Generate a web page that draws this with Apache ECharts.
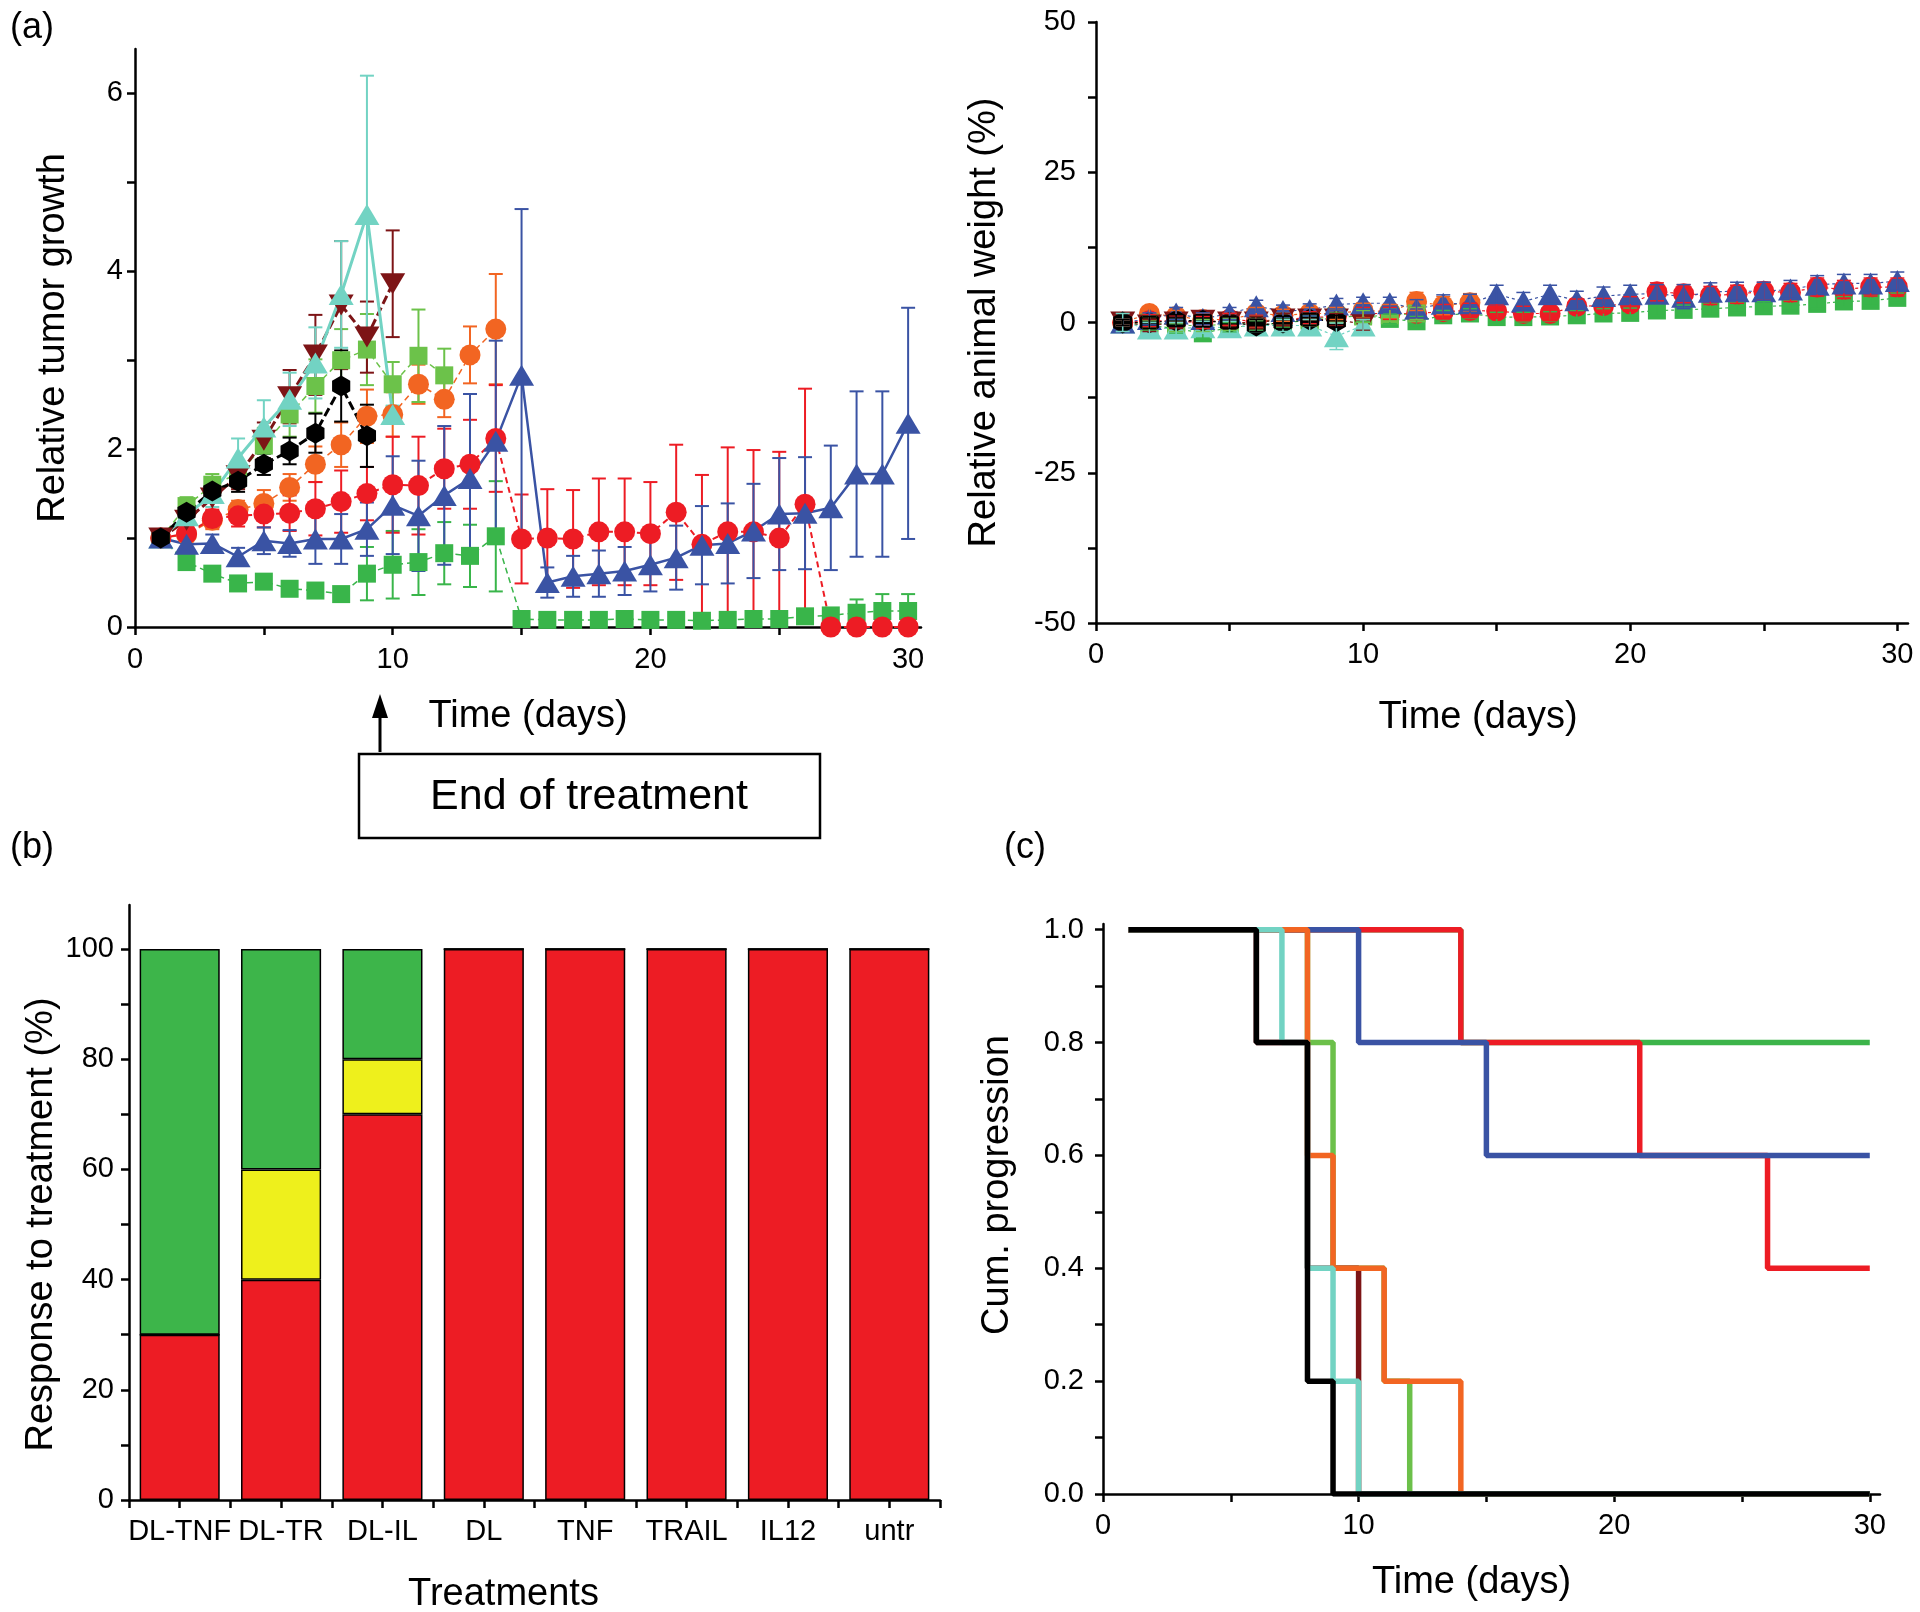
<!DOCTYPE html>
<html><head><meta charset="utf-8">
<script src="https://cdn.jsdelivr.net/npm/echarts@6/dist/echarts.min.js"></script>
<style>html,body{margin:0;padding:0;background:#fff}#c{width:1920px;height:1612px}</style>
</head><body><div id="c"></div>
<script>
const FONT = 'Liberation Sans, Arial, Helvetica, sans-serif';
const days = [1,2,3,4,5,6,7,8,9,10,11,12,13,14,15,16,17,18,19,20,21,22,23,24,25,26,27,28,29,30];

// ---- Panel (a) left: relative tumour growth (mean, error) ----
const tgGreen    = [1.0,0.73,0.60,0.49,0.51,0.43,0.41,0.37,0.60,0.70,0.73,0.83,0.80,1.02,0.09,0.08,0.08,0.08,0.09,0.08,0.08,0.07,0.08,0.09,0.09,0.12,0.13,0.16,0.18,0.18];
const tgGreenErr = [0.05,0.05,0.05,0.05,0.05,0.05,0.05,0.06,0.30,0.38,0.37,0.35,0.35,0.62,0.04,0.03,0.03,0.03,0.03,0.03,0.03,0.03,0.03,0.04,0.04,0.04,0.05,0.15,0.19,0.19];
const tgRed      = [1.0,1.05,1.22,1.25,1.27,1.28,1.33,1.41,1.50,1.60,1.59,1.78,1.83,2.12,0.99,1.00,0.99,1.07,1.07,1.05,1.29,0.93,1.07,1.07,1.00,1.38,0.0,0.0,0.0,0.0];
const tgRedErr   = [0.05,0.08,0.10,0.12,0.15,0.20,0.30,0.35,0.30,0.54,0.55,0.45,0.50,0.60,0.50,0.55,0.55,0.60,0.60,0.58,0.76,0.78,0.95,0.92,0.97,1.30,0,0,0,0];
const tgBlue     = [1.0,0.93,0.94,0.79,0.97,0.94,0.99,0.99,1.10,1.37,1.25,1.48,1.67,2.09,2.83,0.50,0.57,0.60,0.63,0.70,0.78,0.92,0.94,1.08,1.27,1.28,1.34,1.72,1.72,2.29];
const tgBlueErr  = [0.05,0.10,0.10,0.10,0.15,0.15,0.28,0.28,0.30,0.55,0.62,0.78,0.95,1.13,1.87,0.17,0.23,0.26,0.27,0.30,0.36,0.44,0.45,0.53,0.63,0.63,0.70,0.93,0.93,1.30];
const tgOrange   = [1.0,1.04,1.20,1.32,1.39,1.57,1.83,2.05,2.37,2.39,2.73,2.56,3.06,3.35];
const tgOrangeErr= [0.05,0.08,0.10,0.10,0.15,0.15,0.20,0.25,0.30,0.25,0.22,0.20,0.32,0.62];
const tgLgreen   = [1.0,1.36,1.60,1.72,2.04,2.39,2.71,3.00,3.12,2.73,3.05,2.83];
const tgLgreenErr= [0.05,0.10,0.12,0.15,0.20,0.25,0.30,0.35,0.40,0.25,0.52,0.30];
const tgDred     = [1.0,1.20,1.45,1.70,2.10,2.59,3.06,3.62,3.26,3.86];
const tgDredErr  = [0.05,0.10,0.15,0.15,0.20,0.30,0.45,0.72,0.40,0.60];
const tgTurq     = [1.0,1.25,1.50,1.90,2.25,2.56,2.97,3.74,4.64,2.39];
const tgTurqErr  = [0.05,0.10,0.15,0.22,0.30,0.30,0.40,0.60,1.56,0.10];
const tgBlack    = [1.0,1.29,1.53,1.64,1.83,1.98,2.18,2.71,2.15];
const tgBlackErr = [0.05,0.08,0.12,0.12,0.12,0.15,0.22,0.40,0.35];

// ---- Panel (a) right: relative animal weight (%) ----
const wtGreen    = [0,-0.5,-1.0,-1.8,-0.8,-0.5,0,0.3,0.8,1.2,0.6,0.2,1.2,1.5,0.9,0.9,1.0,1.2,1.5,1.6,2.0,2.1,2.3,2.5,2.7,2.8,3.1,3.5,3.6,4.1];
const wtGreenErr = [0.5,0.8,0.8,0.8,0.8,0.8,0.8,0.8,0.8,1.0,0.8,0.8,0.8,0.8,0.8,0.8,0.8,0.8,0.8,0.8,0.8,0.8,0.8,0.8,0.8,0.8,0.8,0.8,0.8,0.8];
const wtRed      = [0,0.3,0.2,0,0.5,0.2,0.5,0.8,1.0,1.5,1.5,1.5,1.8,2.0,1.9,1.5,1.5,2.7,2.8,3.1,5.1,4.8,4.5,4.7,5.2,5.0,5.9,5.5,5.9,5.9];
const wtRedErr   = [0.5,1,1,1,1,1,1,1,1,1,1,1,1.2,1.2,1.2,1.2,1.2,1.2,1.2,1.2,1.5,1.5,1.5,1.5,1.5,1.5,1.5,1.5,1.5,1.5];
const wtBlue     = [0,0.6,1.5,0.6,1.5,2.7,1.9,2.1,3.0,3.2,3.2,2.3,3.1,3.2,4.7,3.5,4.7,3.7,4.4,4.7,4.8,4.3,5.1,5.2,5.2,5.5,6.3,6.5,6.5,6.9];
const wtBlueErr  = [0.5,1,1,1,1,1,1,1,1,1,1,1.5,1.5,1.5,1.5,1.5,1.5,1.5,1.5,1.5,1.5,2,1.5,1.5,1.5,1.5,1.5,1.5,1.5,1.5];
const wtOrange   = [0,1.5,1.0,0.5,0.5,1.5,1.2,1.5,1.5,2.0,1.8,3.5,2.8,3.3];
const wtOrangeErr= [0.5,1,1,1,1,1,1,1,1,1.2,1.2,1.5,1.5,1.5];
const wtLgreen   = [0,0,-0.5,-0.5,-0.3,0,0.5,0.5,1.0,1.0,1.2,1.5];
const wtLgreenErr= [0.5,1,1,1,1,1,1,1,1,1,1,1];
const wtDred     = [0,-0.5,0,0.3,0,0,0.5,0.5,0.5,-0.3];
const wtDredErr  = [0.5,1,1,1,1,1,1,1,1,1];
const wtTurq     = [0,-1,-1,-0.8,-0.8,-0.5,-0.5,-0.5,-2.3,-0.5];
const wtTurqErr  = [1.5,1,1,1,1,1,1,1,2.2,1];
const wtBlack    = [0,0,0.3,0.3,0,-0.5,0,0.5,0.2];
const wtBlackErr = [0.5,1,1,1,1,1,1,1,1];

// ---- Panel (b): response to treatment (%) ----
const treatments = ['DL-TNF','DL-TR','DL-IL','DL','TNF','TRAIL','IL12','untr'];
const respProgress = [30,40,70,100,100,100,100,100];
const respPartial  = [0,20,10,0,0,0,0,0];
const respComplete = [70,40,20,0,0,0,0,0];

// ---- Panel (c): cumulative progression (step curves: time of change, value from then) ----
const kmRedT = [1,14,21,26,30],        kmRedS = [1,0.8,0.6,0.4,0.4];
const kmBlueT = [1,10,15,30],          kmBlueS = [1,0.8,0.6,0.6];
const kmGreenT = [1,14,30],            kmGreenS = [1,0.8,0.8];
const kmLgreenT = [1,8,9,11,12,30],    kmLgreenS = [1,0.8,0.4,0.2,0,0];
const kmOrangeT = [1,8,9,11,14,30],    kmOrangeS = [1,0.6,0.4,0.2,0,0];
const kmDredT = [1,6,8,10,30],         kmDredS = [1,0.8,0.4,0,0];
const kmTurqT = [1,7,8,9,10,30],       kmTurqS = [1,0.8,0.4,0.2,0,0];
const kmBlackT = [1,6,8,9,30],         kmBlackS = [1,0.8,0.2,0,0];

// ---- tick values ----
const tgYTicks = [0,1,2,3,4,5,6], tgYLabels = [0,2,4,6];
const dayTicks = [0,5,10,15,20,25,30], dayLabels = [0,10,20,30];
const wtYTicks = [-50,-37.5,-25,-12.5,0,12.5,25,37.5,50], wtYLabels = [-50,-25,0,25,50];
const respTicks = [0,10,20,30,40,50,60,70,80,90,100], respLabels = [0,20,40,60,80,100];
const kmYTicks = [0,0.1,0.2,0.3,0.4,0.5,0.6,0.7,0.8,0.9,1.0], kmYLabels = [0,0.2,0.4,0.6,0.8,1.0];

const C = {red:'#ed1c24', green:'#39b54a', lgreen:'#6cc24a', blue:'#3a53a4', dred:'#7d1416',
  turq:'#72d3c3', orange:'#f26522', black:'#000000', yellow:'#eef01c'};
const HEX = 'path://M0,-10 L8.66,-5 L8.66,5 L0,10 L-8.66,5 L-8.66,-5 Z';

function triples(vals, errs) {
  const out = [];
  for (let i = 0; i < vals.length; i++) if (vals[i] != null) out.push([days[i], vals[i], errs[i]]);
  return out;
}
function errSeries(data, color, xi, yi, lw, z) {
  return {type:'custom', xAxisIndex:xi, yAxisIndex:yi, data:data, z:z, clip:true, silent:true,
    encode:{x:0, y:1}, itemStyle:{color:color},
    renderItem: function (params, api) {
      const x = api.value(0), v = api.value(1), e = api.value(2);
      if (!e) return {type:'group', children:[]};
      const hi = api.coord([x, v + e]), lo = api.coord([x, v - e]);
      const w = 7, st = {stroke:color, lineWidth:lw};
      return {type:'group', children:[
        {type:'line', shape:{x1:hi[0], y1:hi[1], x2:lo[0], y2:lo[1]}, style:st},
        {type:'line', shape:{x1:hi[0]-w, y1:hi[1], x2:hi[0]+w, y2:hi[1]}, style:st},
        {type:'line', shape:{x1:lo[0]-w, y1:lo[1], x2:lo[0]+w, y2:lo[1]}, style:st}]};
    }};
}
function markSeries(data, color, sym, size, rot, lt, lw, xi, yi) {
  return {type:'line', xAxisIndex:xi, yAxisIndex:yi, data:data.map(d => [d[0], d[1]]),
    symbol:sym, symbolSize:size, symbolRotate:rot, symbolKeepAspect:true, showSymbol:true, showAllSymbol:true,
    itemStyle:{color:color, borderWidth:0}, lineStyle:{color:color, width:lw, type:lt}, z:3, silent:true};
}
function groupSeries(vals, errs, color, sym, size, rot, lt, lw, xi, yi, errZ, errW) {
  const d = triples(vals, errs);
  return [errSeries(d, color, xi, yi, errW, errZ), markSeries(d, color, sym, size, rot, lt, lw, xi, yi)];
}
function stepSeries(t, s, color) {
  return {type:'line', xAxisIndex:3, yAxisIndex:3, data:t.map((x, i) => [x, s[i]]), step:'end',
    symbol:'none', lineStyle:{color:color, width:5.5}, z:3, silent:true};
}
function valAxis(o) {
  return {type:'value', gridIndex:o.grid, min:o.min, max:o.max, position:o.pos,
    axisLine:{show:true, onZero:false, lineStyle:{color:'#000', width:2.5}},
    axisTick:{show:true, inside:false, length:8, lineStyle:{color:'#000', width:2.5}, customValues:o.ticks},
    axisLabel:{show:true, customValues:o.labels, fontSize:29, color:'#000', fontFamily:FONT, margin:o.margin,
      formatter:o.fmt || (v => String(v))},
    splitLine:{show:false}, minorTick:{show:false}, minorSplitLine:{show:false},
    name:o.name, nameLocation:'middle', nameGap:o.gap,
    nameTextStyle:{fontSize:38, color:'#000', fontFamily:FONT, padding:o.pad || 0}};
}

const series = [];
// panel a left (grid 0)
[
  [tgGreen, tgGreenErr, C.green, 'rect', 18, 0, [6,4], 1.5],
  [tgOrange, tgOrangeErr, C.orange, 'circle', 21, 0, [6,4], 1.5],
  [tgRed, tgRedErr, C.red, 'circle', 21, 0, [6,4], 2],
  [tgLgreen, tgLgreenErr, C.lgreen, 'rect', 18, 0, [6,4], 1.5],
  [tgDred, tgDredErr, C.dred, 'triangle', [25,21], 180, [9,4], 3],
  [tgTurq, tgTurqErr, C.turq, 'triangle', [25,21], 0, 'solid', 3],
  [tgBlue, tgBlueErr, C.blue, 'triangle', [25,21], 0, 'solid', 2.5],
  [tgBlack, tgBlackErr, C.black, HEX, 21, 0, [9,4], 3]
].forEach(g => series.push(...groupSeries(g[0], g[1], g[2], g[3], g[4], g[5], g[6], g[7], 0, 0, 2, 2)));
// panel a right (grid 1)
[
  [wtGreen, wtGreenErr, C.green, 'rect', 18, 0],
  [wtOrange, wtOrangeErr, C.orange, 'circle', 21, 0],
  [wtRed, wtRedErr, C.red, 'circle', 21, 0],
  [wtLgreen, wtLgreenErr, C.lgreen, 'rect', 18, 0],
  [wtDred, wtDredErr, C.dred, 'triangle', [25,22], 180],
  [wtTurq, wtTurqErr, C.turq, 'triangle', [25,22], 0],
  [wtBlue, wtBlueErr, C.blue, 'triangle', [25,22], 0],
  [wtBlack, wtBlackErr, C.black, HEX, 22, 0]
].forEach(g => series.push(...groupSeries(g[0], g[1], g[2], g[3], g[4], g[5], [3,3], 1.2, 1, 1, 4, 1.5)));
// panel b (grid 2)
const barStyle = c => ({color:c, borderColor:'#000', borderWidth:1.5});
series.push({type:'bar', xAxisIndex:2, yAxisIndex:2, stack:'r', data:respProgress, barWidth:'79%', itemStyle:barStyle(C.red), silent:true});
series.push({type:'bar', xAxisIndex:2, yAxisIndex:2, stack:'r', data:respPartial, barWidth:'79%', itemStyle:barStyle(C.yellow), silent:true});
series.push({type:'bar', xAxisIndex:2, yAxisIndex:2, stack:'r', data:respComplete, barWidth:'79%', itemStyle:barStyle('#3db54a'), silent:true});
// panel c (grid 3)
series.push(stepSeries(kmGreenT, kmGreenS, '#3cb44a'));
series.push(stepSeries(kmLgreenT, kmLgreenS, '#6cc04a'));
series.push(stepSeries(kmDredT, kmDredS, C.dred));
series.push(stepSeries(kmRedT, kmRedS, C.red));
series.push(stepSeries(kmBlueT, kmBlueS, C.blue));
series.push(stepSeries(kmOrangeT, kmOrangeS, C.orange));
series.push(stepSeries(kmTurqT, kmTurqS, C.turq));
series.push(stepSeries(kmBlackT, kmBlackS, C.black));

const option = {
  animation:false,
  backgroundColor:'#fff',
  textStyle:{fontFamily:FONT},
  grid:[
    {left:135, top:49, width:786, height:578, outerBoundsMode:'none'},
    {left:1096, top:22, width:812, height:601, outerBoundsMode:'none'},
    {left:129, top:905, width:811, height:595, outerBoundsMode:'none'},
    {left:1103, top:924, width:777, height:570, outerBoundsMode:'none'}
  ],
  xAxis:[
    valAxis({grid:0, min:0, max:30.5, pos:'bottom', ticks:dayTicks, labels:dayLabels, margin:18, name:'Time (days)', gap:71}),
    valAxis({grid:1, min:0, max:30.4, pos:'bottom', ticks:dayTicks, labels:dayLabels, margin:17, name:'Time (days)', gap:76, pad:[0,48,0,0]}),
    {type:'category', gridIndex:2, data:treatments, position:'bottom', boundaryGap:true,
      axisLine:{show:true, onZero:false, lineStyle:{color:'#000', width:2.5}},
      axisTick:{show:true, inside:false, length:8, alignWithLabel:false, lineStyle:{color:'#000', width:2.5}},
      axisLabel:{show:true, interval:0, fontSize:29, color:'#000', fontFamily:FONT, margin:17},
      splitLine:{show:false},
      name:'Treatments', nameLocation:'middle', nameGap:76,
      nameTextStyle:{fontSize:38, color:'#000', fontFamily:FONT, padding:[0,62,0,0]}},
    valAxis({grid:3, min:0, max:30.4, pos:'bottom', ticks:dayTicks, labels:dayLabels, margin:17, name:'Time (days)', gap:70, pad:[0,40,0,0]}),
    {type:'category', gridIndex:2, data:treatments, position:'bottom', boundaryGap:true,
      axisLine:{show:false}, axisLabel:{show:false}, splitLine:{show:false},
      axisTick:{show:true, inside:false, length:8, alignWithLabel:true, lineStyle:{color:'#000', width:2.5}}}
  ],
  yAxis:[
    valAxis({grid:0, min:0, max:6.5, pos:'left', ticks:tgYTicks, labels:tgYLabels, margin:12, name:'Relative tumor growth', gap:62}),
    valAxis({grid:1, min:-50, max:50, pos:'left', ticks:wtYTicks, labels:wtYLabels, margin:20, name:'Relative animal weight (%)', gap:92}),
    valAxis({grid:2, min:0, max:108, pos:'left', ticks:respTicks, labels:respLabels, margin:15, name:'Response to treatment (%)', gap:68, pad:[0,44,0,0]}),
    valAxis({grid:3, min:0, max:1.01, pos:'left', ticks:kmYTicks, labels:kmYLabels, margin:19, name:'Cum. progression', gap:86, pad:[0,0,0,48],
      fmt:v => Number(v).toFixed(1)})
  ],
  graphic:[
    {type:'text', x:10, y:28, style:{text:'(a)', fontSize:36, fill:'#000', font:'36px ' + FONT, textVerticalAlign:'middle'}},
    {type:'text', x:10, y:848, style:{text:'(b)', fontSize:36, fill:'#000', font:'36px ' + FONT, textVerticalAlign:'middle'}},
    {type:'text', x:1004, y:848, style:{text:'(c)', fontSize:36, fill:'#000', font:'36px ' + FONT, textVerticalAlign:'middle'}},
    {type:'line', shape:{x1:380, y1:752, x2:380, y2:712}, style:{stroke:'#000', lineWidth:3}},
    {type:'polygon', shape:{points:[[380,694],[372,718],[388,718]]}, style:{fill:'#000'}},
    {type:'rect', shape:{x:359, y:754, width:461, height:84}, style:{fill:'none', stroke:'#000', lineWidth:2.5}},
    {type:'text', x:589, y:797, style:{text:'End of treatment', font:'43px ' + FONT, fill:'#000', textAlign:'center', textVerticalAlign:'middle'}}
  ],
  series:series
};
const chart = echarts.init(document.getElementById('c'), null, {renderer:'canvas'});
chart.setOption(option);
</script></body></html>
